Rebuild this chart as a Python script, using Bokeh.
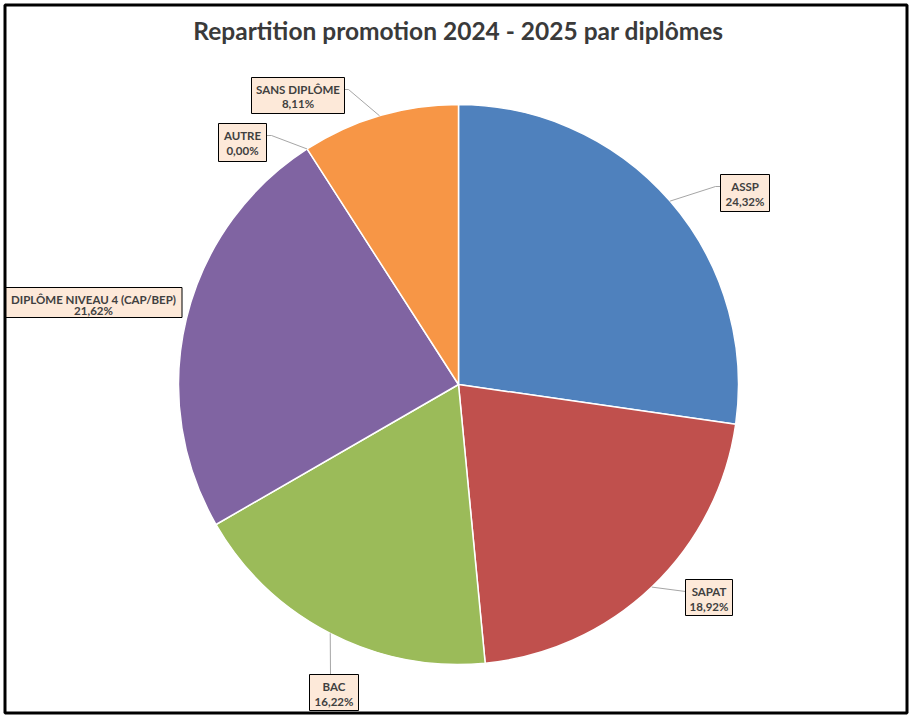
import numpy as np
from bokeh.plotting import figure
from bokeh.models import Range1d
from bokeh.core.properties import value
from bokeh.embed import file_html
from bokeh.resources import INLINE

# ---- data ----
title = "Repartition promotion 2024 - 2025 par diplômes"
categories = ["ASSP", "SAPAT", "BAC", "DIPLÔME NIVEAU 4 (CAP/BEP)", "AUTRE", "SANS DIPLÔME"]
values = [24.32, 18.92, 16.22, 21.62, 0.00, 8.11]
colors = ["#4F81BD", "#C0504D", "#9BBB59", "#8064A2", "#4BACC6", "#F79646"]

# ---- layout (pixel coordinates, y measured downward) ----
W, H = 909, 715
def X(px):
    return px
def Y(py):
    return H - py

CX, CY, R = 458, 384, 280
LAYOUT = {
    "ASSP": dict(box=(744.5, 192.5), size=(49, 37), gap=14.5, leader=[(715, 186), (720, 186)]),
    "SAPAT": dict(box=(708.5, 597), size=(47, 36), gap=14.5, leader=[(685, 591)]),
    "BAC": dict(box=(333.5, 692), size=(49, 36), gap=14.5, leader=[(330, 674)]),
    "DIPLÔME NIVEAU 4 (CAP/BEP)": dict(box=(93, 302), size=(177, 30), gap=11, leader=[]),
    "AUTRE": dict(box=(242, 142), size=(48, 38), gap=14.5, leader=[(271, 135), (266, 135)]),
    "SANS DIPLÔME": dict(box=(297.5, 95), size=(93, 36), gap=13.5, leader=[(348, 89), (344, 89)]),
}

p = figure(width=W, height=H, output_backend="svg", toolbar_location=None,
           x_range=Range1d(0, W), y_range=Range1d(0, H), min_border=0,
           background_fill_color="white", border_fill_color="white")
p.axis.visible = False
p.grid.visible = False
p.outline_line_color = None

# pie
vals = np.array(values, dtype=float)
fr = vals / vals.sum()
ends = np.pi / 2 - np.cumsum(fr) * 2 * np.pi
starts = np.concatenate([[np.pi / 2], ends[:-1]])
mids = (starts + ends) / 2

for i in range(len(values)):
    if values[i] <= 0:
        continue
    p.wedge(x=X(CX), y=Y(CY), radius=R, start_angle=starts[i], end_angle=ends[i],
            direction="clock", fill_color=colors[i], line_color="white", line_width=1.5)

# labels
for i, cat in enumerate(categories):
    lay = LAYOUT[cat]
    ax = CX + R * np.cos(mids[i])
    ay = CY - R * np.sin(mids[i])
    pts = [(ax, ay)] + lay["leader"]
    if len(pts) > 1:
        p.line([X(a) for a, b in pts], [Y(b) for a, b in pts], line_color="#A6A6A6", line_width=1)
    bx, by = lay["box"]
    bw, bh = lay["size"]
    p.rect(x=X(bx), y=Y(by), width=bw, height=bh, fill_color="#FDE9D9",
           line_color="black", line_width=1)
    top = by - bh / 2
    m1 = top + 12
    m2 = m1 + lay["gap"]
    pct = f"{values[i]:.2f}".replace(".", ",") + "%"
    p.text(x=[X(bx)], y=[Y(m1)], text=[cat], text_align="center", text_baseline="middle",
           text_font=value("Lato"), text_font_style="bold", text_font_size="11.5px",
           text_color="#404040")
    p.text(x=[X(bx)], y=[Y(m2)], text=[pct], text_align="center", text_baseline="middle",
           text_font=value("Lato"), text_font_style="bold", text_font_size="11.5px",
           text_color="#404040")

# title
p.text(x=[X(458)], y=[Y(30)], text=[title], text_align="center", text_baseline="middle",
       text_font=value("Lato"), text_font_style="bold", text_font_size="24.5px",
       text_color="#3A3A3A")

# chart border
p.rect(x=455.5, y=H - 358.5, width=902, height=708, fill_color=None,
       line_color="black", line_width=3)

open("out.html", "w").write(file_html(p, INLINE))
